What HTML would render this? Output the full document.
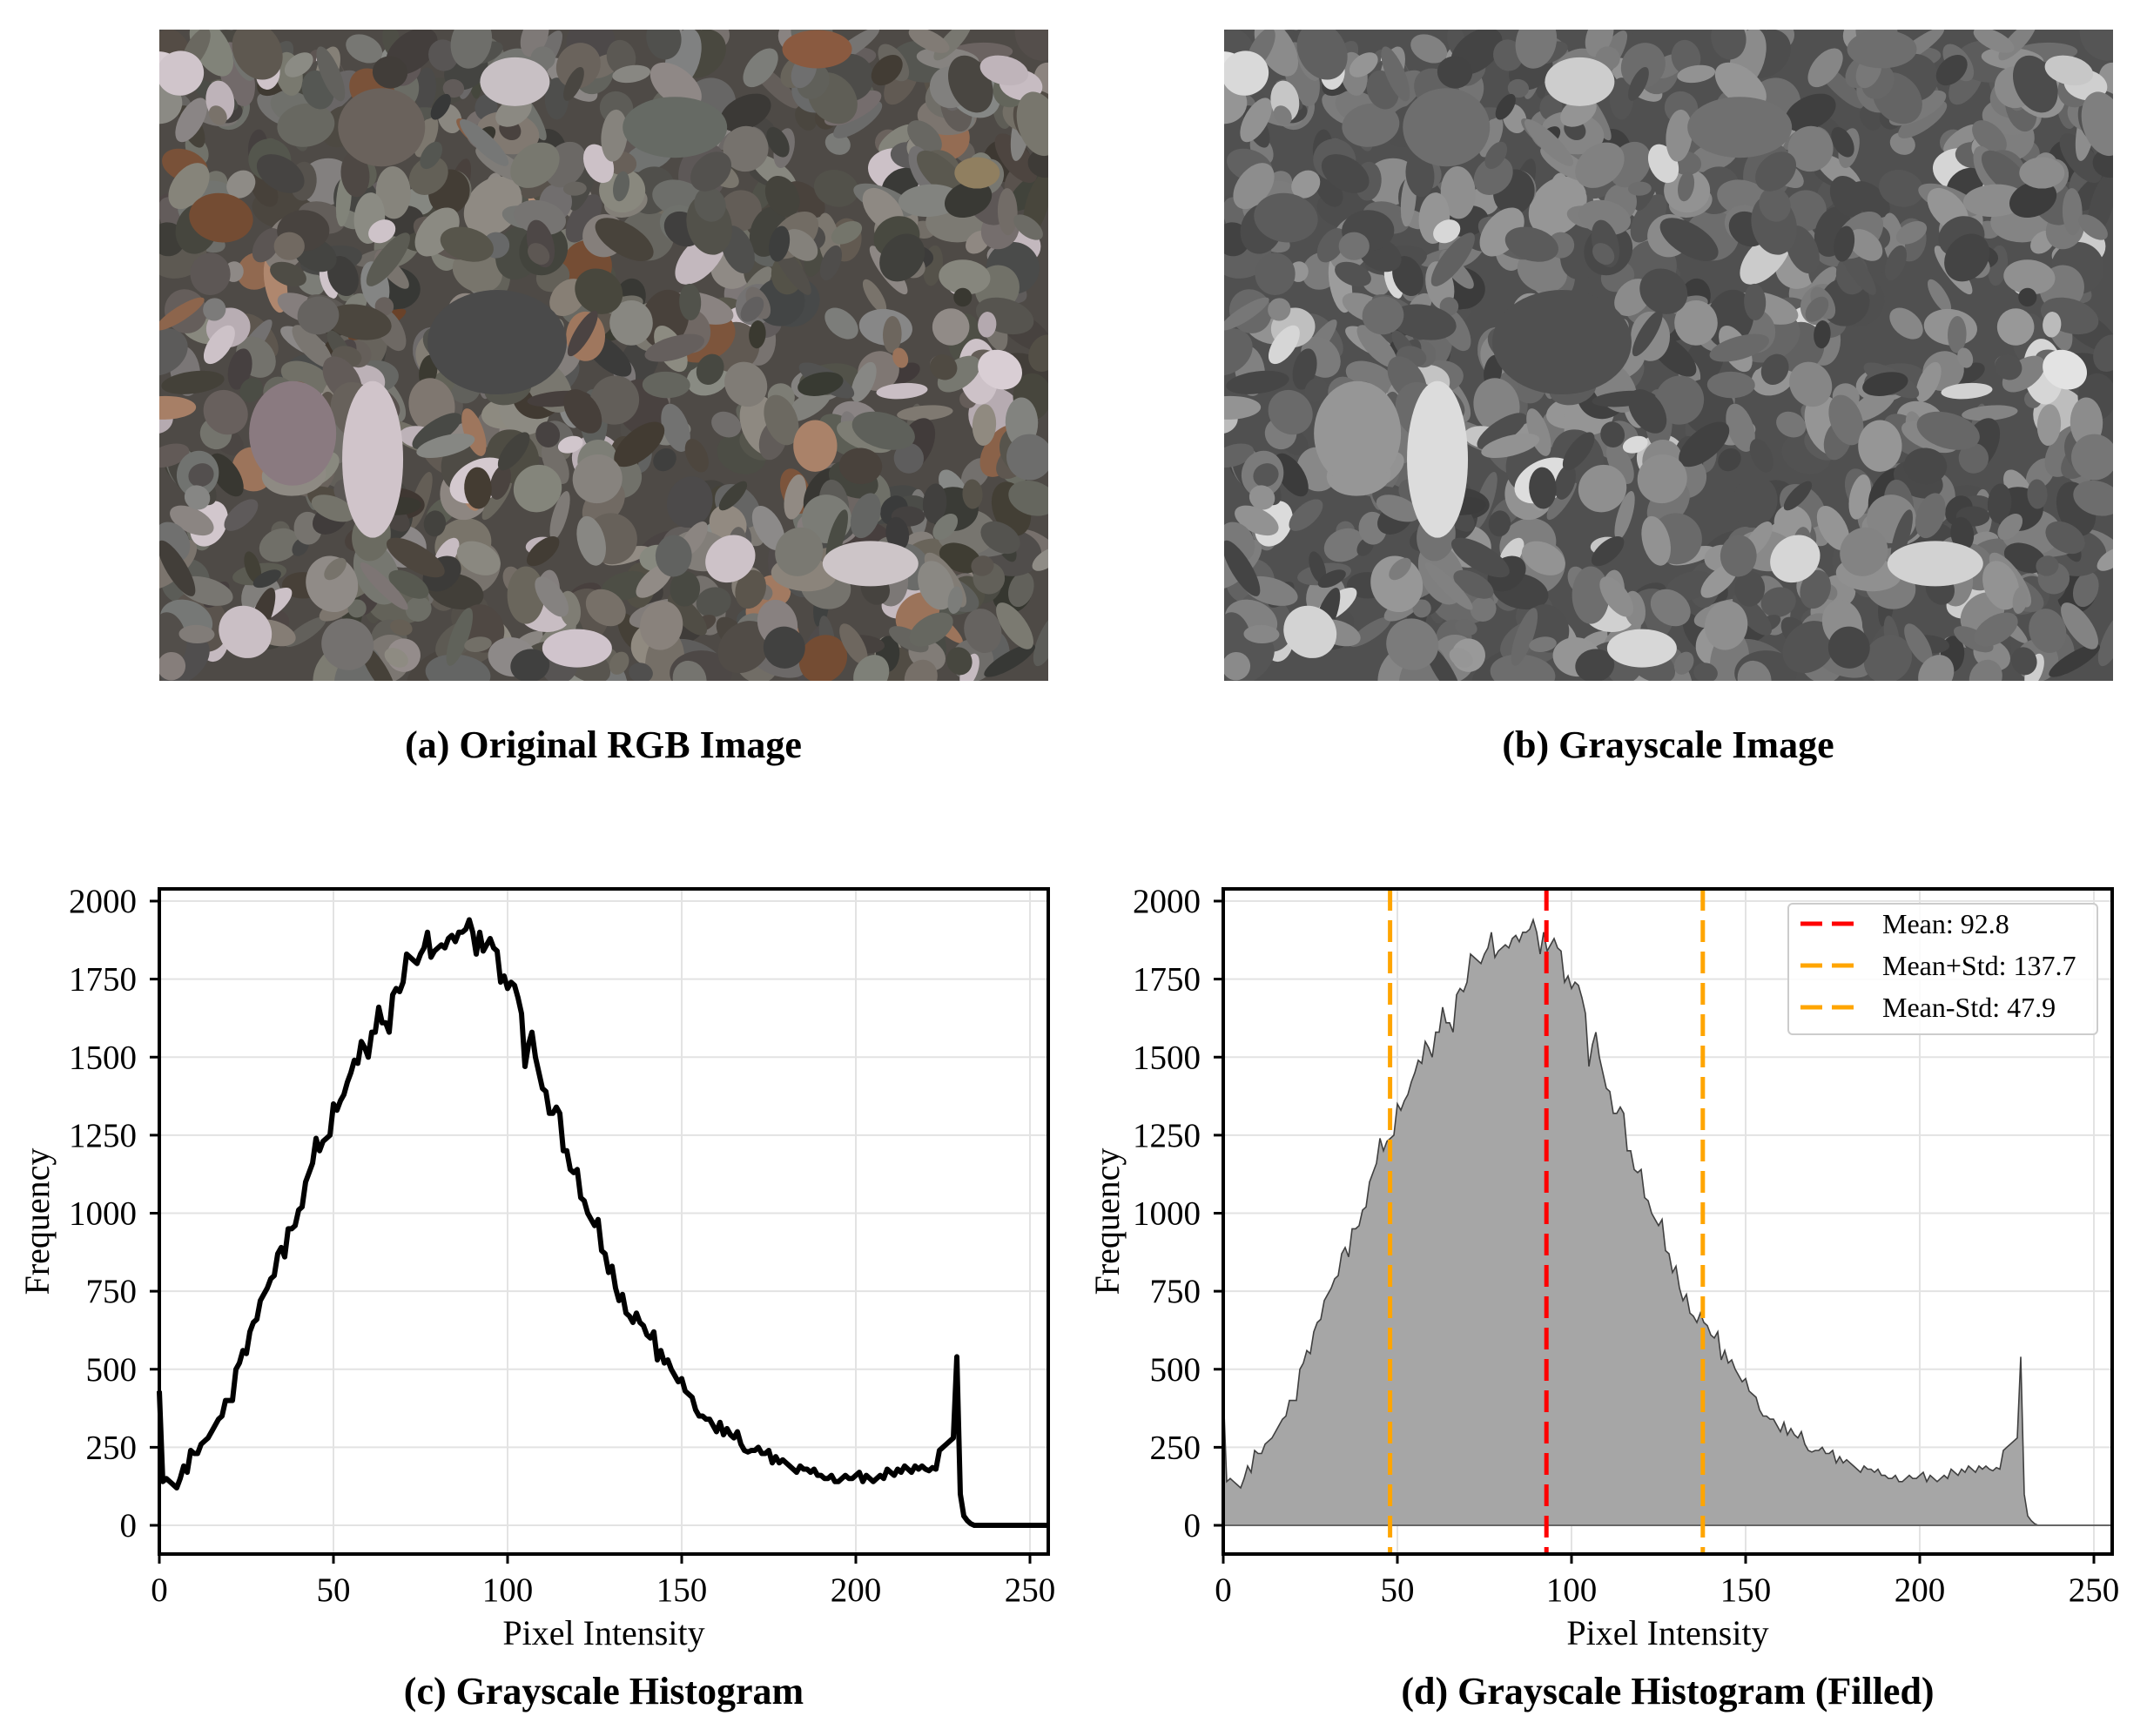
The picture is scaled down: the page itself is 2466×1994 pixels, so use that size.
<!DOCTYPE html>
<html><head><meta charset="utf-8"><style>
html,body{margin:0;padding:0;background:#fff;}
svg{display:block;}
text{font-family:"Liberation Serif","DejaVu Serif",serif;}
</style></head><body>
<svg id="fig" width="2466" height="1994" viewBox="0 0 2466 1994" xmlns="http://www.w3.org/2000/svg">
<defs>
<clipPath id="clipA"><rect x="183" y="34" width="1021" height="748"/></clipPath>
<clipPath id="clipB"><rect x="1406" y="34" width="1021" height="748"/></clipPath>
<clipPath id="clipD"><rect x="1405" y="1021" width="1021" height="764"/></clipPath>
</defs>
<g id="imgA" clip-path="url(#clipA)"><rect x="183" y="34" width="1021" height="748" fill="#4e4a46"/></g>
<g id="imgB" clip-path="url(#clipB)"><rect x="1406" y="34" width="1021" height="748" fill="#505050"/></g>
<text x="693" y="870" font-size="44" font-weight="bold" text-anchor="middle">(a) Original RGB Image</text>
<text x="1916" y="870" font-size="44" font-weight="bold" text-anchor="middle">(b) Grayscale Image</text>
<g id="chartC"></g>
<g id="chartD"></g>
</svg>
<script>
// ---- data ----
const intensities = Array.from({length:256},(_,i)=>i);
const frequency = [430,140,150,140,130,120,150,190,170,240,230,230,260,270,280,300,320,340,350,400,400,400,500,520,560,550,620,650,660,720,
740,760,790,800,870,890,860,950,950,960,1010,1020,1100,1130,1160,1240,1200,1230,1240,1250,
1350,1330,1360,1380,1420,1450,1490,1480,1550,1530,1500,1580,1580,1660,1610,1610,1580,1700,1720,1710,
1740,1830,1820,1810,1800,1830,1850,1900,1820,1840,1850,1860,1850,1880,1890,1870,1900,1900,1910,1940,
1900,1830,1900,1840,1860,1880,1850,1840,1740,1760,1720,1740,1730,1690,1640,1470,1540,1580,1500,1450,
1400,1390,1320,1320,1340,1320,1200,1200,1140,1130,1140,1050,1040,1000,980,960,980,880,870,810,
830,760,720,740,680,670,650,680,650,640,610,600,620,530,560,520,530,500,480,460,
470,430,420,410,370,350,350,340,340,320,300,330,290,310,290,280,300,260,240,235,
240,240,250,230,230,240,200,220,200,210,200,190,180,170,190,180,180,170,180,160,
160,150,150,160,140,140,150,160,150,150,160,170,140,160,150,140,150,160,150,180,
170,160,180,170,190,180,170,190,180,190,180,175,185,180,240,250,260,270,280,540,
100,30,15,5,0,0,0,0,0,0,0,0,0,0,0,0,0,0,0,0,0,0,0,0,0,0];
const yTicks = [0,250,500,750,1000,1250,1500,1750,2000];
const xTicks = [0,50,100,150,200,250];
const statLabels = ["Mean: 92.8","Mean+Std: 137.7","Mean-Std: 47.9"];
const statValues = [92.8,137.7,47.9];
const statColors = ["#ff0000","#ffa500","#ffa500"];

const NS="http://www.w3.org/2000/svg";
function mk(tag,attrs,parent){const e=document.createElementNS(NS,tag);for(const k in attrs)e.setAttribute(k,attrs[k]);parent.appendChild(e);return e;}

// ---- decorative photos (seeded texture) ----
let seed=12345;function rnd(){seed=(seed*1103515245+12345)%2147483648;return seed/2147483648;}
const gA=document.getElementById('imgA'), gB=document.getElementById('imgB');
for(let i=0;i<900;i++){
  const fx=rnd(), fy=rnd(), rx=10+rnd()*28, ry=8+rnd()*22, rot=rnd()*180;
  let g=55+rnd()*85; let r=g+rnd()*10-2, gg=g, b=g-rnd()*10;
  if(rnd()<0.04){r=g+45;gg=g+5;b=g-20;}
  if(rnd()<0.04){g=170+rnd()*40;r=g+8;gg=g-3;b=g+3;}
  const lum=Math.round(0.299*r+0.587*gg+0.114*b);
  const c1=`rgb(${Math.round(Math.min(255,r))},${Math.round(gg)},${Math.round(Math.max(0,b))})`;
  const a=mk('ellipse',{cx:183+fx*1021,cy:34+fy*748,rx:rx,ry:ry,fill:c1,transform:`rotate(${rot} ${183+fx*1021} ${34+fy*748})`},gA);
  
  
  const gl=Math.min(255,Math.round(lum*1.08));
  const bb=mk('ellipse',{cx:1406+fx*1021,cy:34+fy*748,rx:rx,ry:ry,fill:`rgb(${gl},${gl},${gl})`,transform:`rotate(${rot} ${1406+fx*1021} ${34+fy*748})`},gB);
  
  
}
const feats=[[0.15,0.62,50,60,'#8a7a80',150],[0.24,0.66,35,90,'#d0c4ca',220],[0.38,0.48,80,60,'#4a4a4a',80],[0.4,0.08,40,28,'#c8c0c4',205],[0.8,0.82,55,26,'#cdc5c8',210],[0.74,0.03,40,22,'#8a5a40',110],[0.47,0.95,40,22,'#d0c4cc',215],[0.25,0.15,50,45,'#6a625c',110],[0.58,0.15,60,35,'#666a64',112],[0.92,0.22,26,18,'#907f60',140]];
feats.forEach(f=>{
  const a=mk('ellipse',{cx:183+f[0]*1021,cy:34+f[1]*748,rx:f[2],ry:f[3],fill:f[4]},gA);
  
  
  const b=mk('ellipse',{cx:1406+f[0]*1021,cy:34+f[1]*748,rx:f[2],ry:f[3],fill:`rgb(${f[5]},${f[5]},${f[5]})`},gB);
  
  
});

// ---- charts ----
function drawChart(g, L, title, filled, freqX){
  const R=L+1021, T=1021, B=1785;
  const xS=v=>L+v*4.0, yS=v=>1752-v*0.3585;
  mk('rect',{x:L,y:T,width:R-L,height:B-T,fill:'#fff'},g);
  const grid=mk('g',{stroke:'#e3e3e3','stroke-width':2},g);
  
  
  xTicks.forEach(t=>mk('line',{x1:xS(t),x2:xS(t),y1:T,y2:B},grid));
  yTicks.forEach(t=>mk('line',{x1:L,x2:R,y1:yS(t),y2:yS(t)},grid));
  const pts=intensities.map((x,i)=>`${xS(x).toFixed(1)},${yS(frequency[i]).toFixed(1)}`);
  if(filled){
    const cg=mk('g',{'clip-path':'url(#clipD)'},g);
    const area=mk('polygon',{points:`${xS(0)},${yS(0)} `+pts.join(' ')+` ${xS(255)},${yS(0)}`,fill:'#a6a6a6',stroke:'none'},cg);
    
    
    const ln=mk('polyline',{points:pts.join(' '),fill:'none',stroke:'#404040','stroke-width':1.6},cg);
    
    
    const base=mk('line',{x1:L,x2:R,y1:yS(0),y2:yS(0),stroke:'#666','stroke-width':2},cg);
    
    
    statValues.forEach((v,i)=>{
      const vl=mk('line',{x1:xS(v),x2:xS(v),y1:T,y2:B,stroke:statColors[i],'stroke-width':5,'stroke-dasharray':'25 11'},g);
      
      
    });
    const lg=mk('g',{},g);
    
    
    mk('rect',{x:2054,y:1038,width:355,height:150,rx:5,fill:'#fff','fill-opacity':0.85,stroke:'#cccccc','stroke-width':2},lg);
    statLabels.forEach((s,i)=>{
      const cy=1061+i*48;
      const ll=mk('line',{x1:2068,x2:2129,y1:cy,y2:cy,stroke:statColors[i],'stroke-width':5,'stroke-dasharray':'25 11'},lg);
      
      
      const tx=mk('text',{x:2162,y:cy+11,'font-size':32},lg);tx.textContent=s;
      
      
    });
  } else {
    const ln=mk('polyline',{points:pts.join(' '),fill:'none',stroke:'#000','stroke-width':6,'stroke-linejoin':'round'},g);
    
    
  }
  const fr=mk('rect',{x:L,y:T,width:R-L,height:B-T,fill:'none',stroke:'#000','stroke-width':4},g);
  
  
  yTicks.forEach(t=>{
    mk('line',{x1:L-11,x2:L,y1:yS(t),y2:yS(t),stroke:'#000','stroke-width':3},g);
    const tx=mk('text',{x:L-26,y:yS(t)+13,'font-size':39,'text-anchor':'end'},g);tx.textContent=t;
    
    
  });
  xTicks.forEach(t=>{
    mk('line',{x1:xS(t),x2:xS(t),y1:B,y2:B+11,stroke:'#000','stroke-width':3},g);
    const tx=mk('text',{x:xS(t),y:1839,'font-size':39,'text-anchor':'middle'},g);tx.textContent=t;
    
    
  });
  const xl=mk('text',{x:(L+R)/2,y:1889,'font-size':40,'text-anchor':'middle'},g);xl.textContent='Pixel Intensity';
  
  
  const yl=mk('text',{x:freqX,y:1403,'font-size':40,'text-anchor':'middle',transform:`rotate(-90 ${freqX} 1403)`},g);yl.textContent='Frequency';
  
  
  const tt=mk('text',{x:(L+R)/2,y:1957,'font-size':44,'font-weight':'bold','text-anchor':'middle'},g);tt.textContent=title;
  
  
}
drawChart(document.getElementById('chartC'),183,'(c) Grayscale Histogram',false,56);
drawChart(document.getElementById('chartD'),1405,'(d) Grayscale Histogram (Filled)',true,1285);
</script>
</body></html>
